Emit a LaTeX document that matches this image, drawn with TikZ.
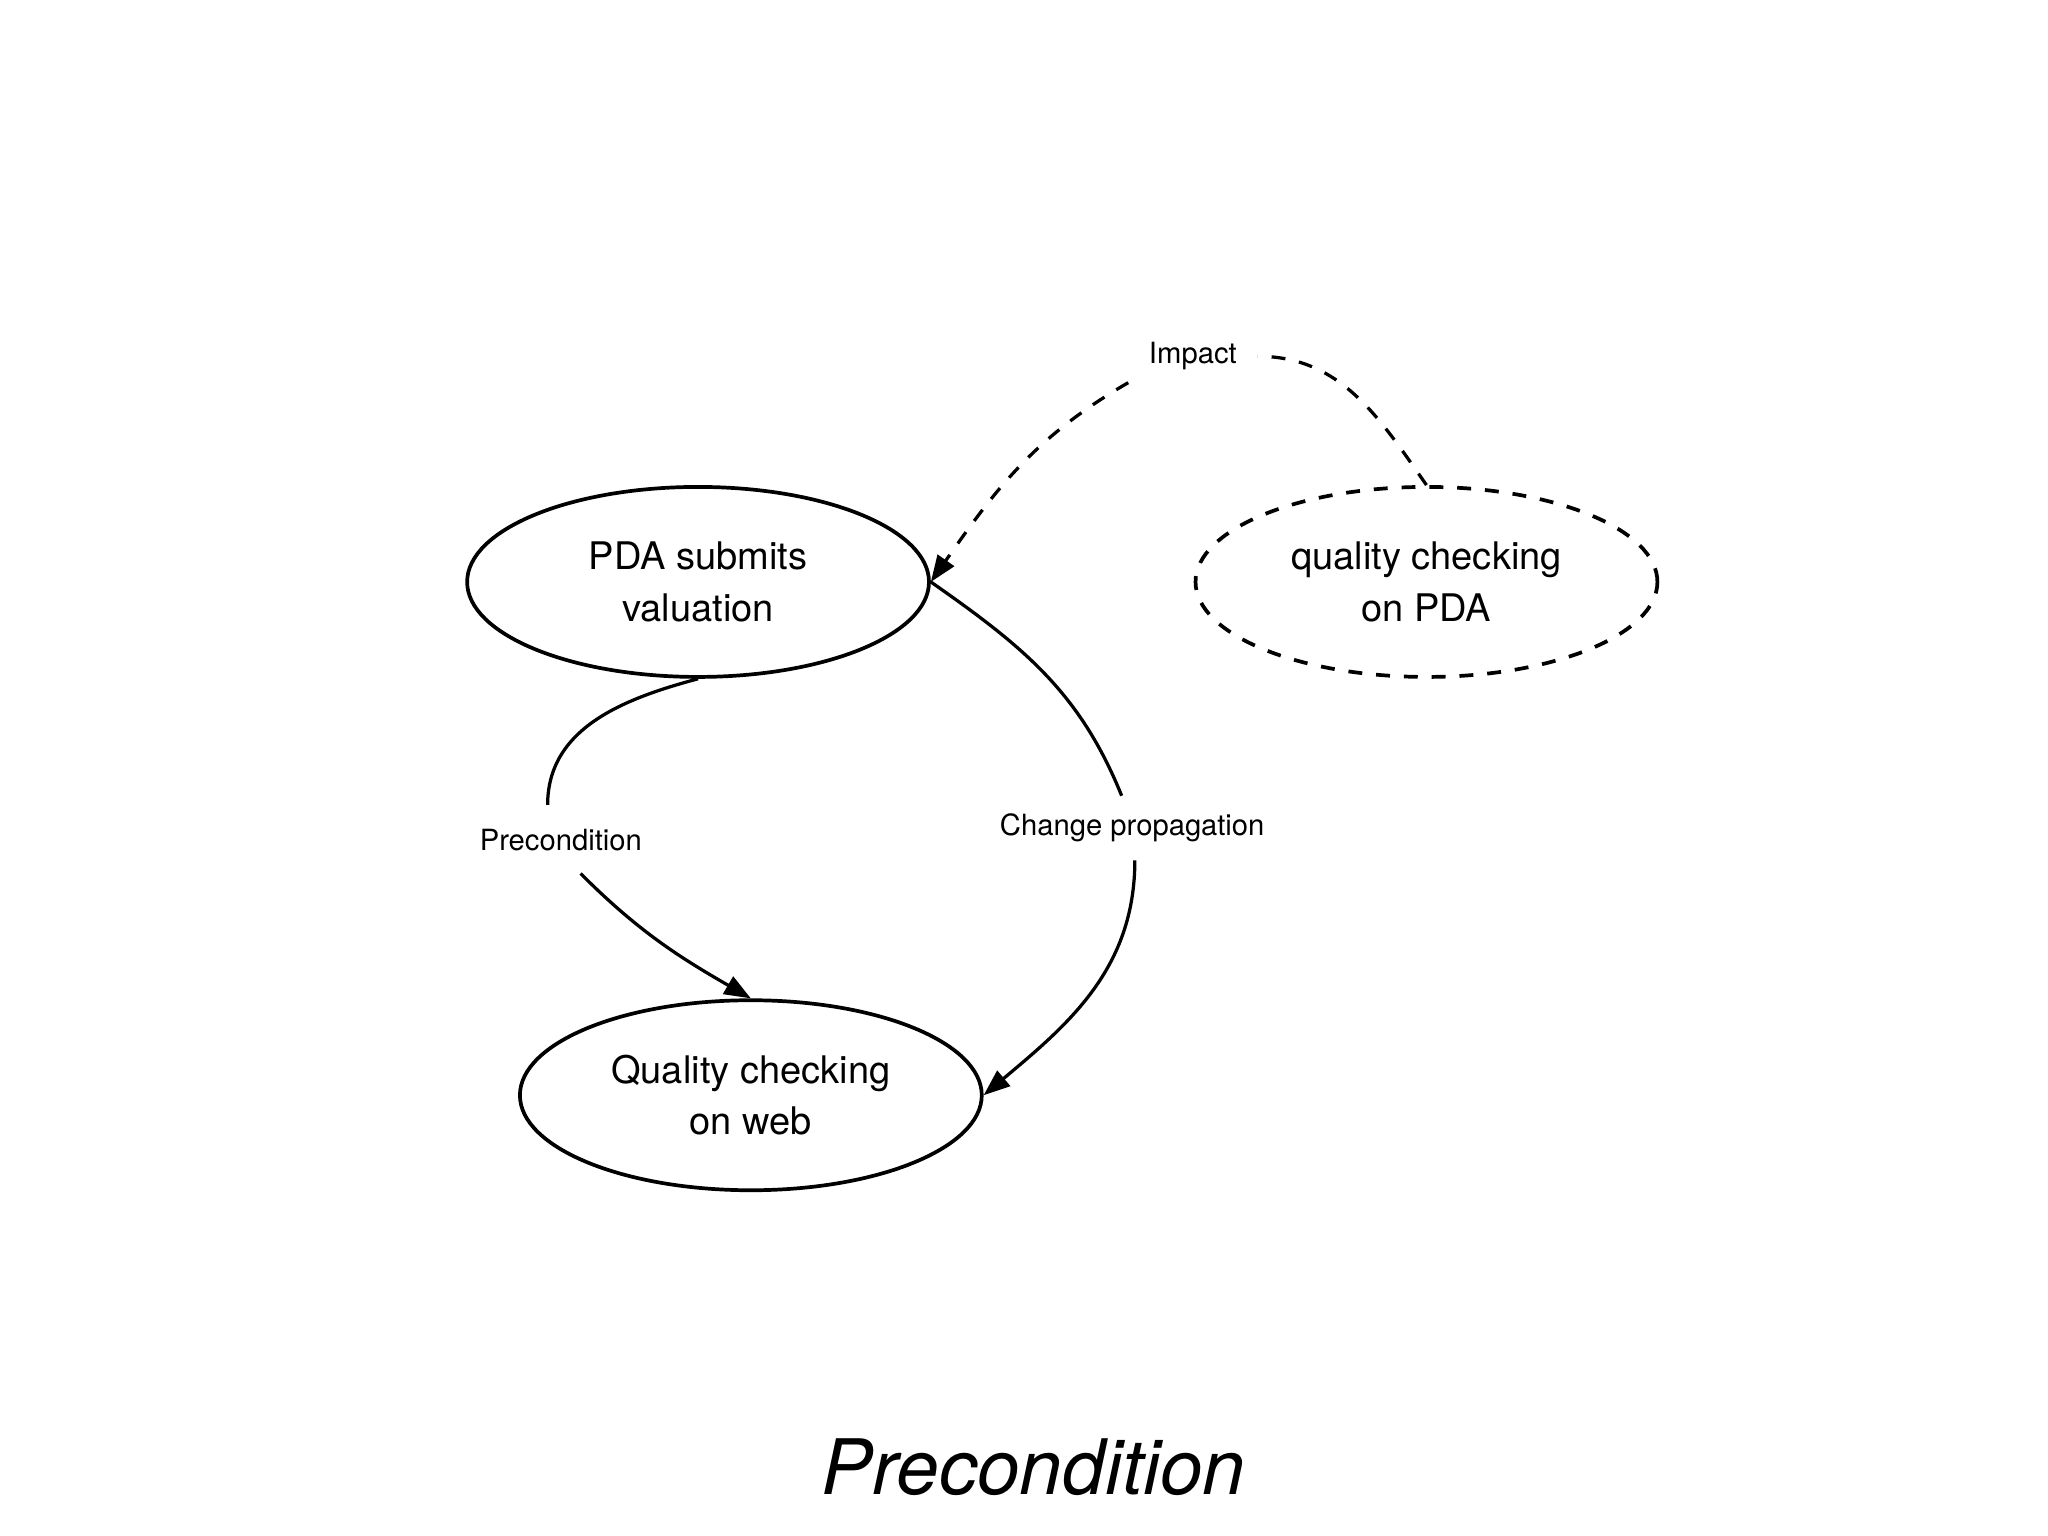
\documentclass[tikz,border=0pt]{standalone}
\usepackage{fontspec}
\setmainfont{TeX Gyre Heros}
\usetikzlibrary{shapes.geometric,arrows.meta}
\begin{document}
\begin{tikzpicture}[
  ell/.style={ellipse,draw,line width=0.8pt,minimum width=3.5cm,minimum height=1.44cm,inner sep=0pt,align=center,font=\fontsize{8.2}{11}\selectfont},
  lab/.style={font=\fontsize{6.3}{8}\selectfont,inner sep=1pt},
  con/.style={line width=0.7pt},
  arr/.style={con,-{Triangle[length=2mm,width=1.5mm]}}]
\useasboundingbox (0,0) rectangle (15.52,-11.64);
\node[ell] (pda) at (5.29,-4.41) {PDA submits\\valuation};
\node[ell,dashed] (qpda) at (10.81,-4.41) {quality checking\\on PDA};
\node[ell] (web) at (5.69,-8.30) {Quality checking\\on web};
\node[lab] (imp) at (9.04,-2.70) {Impact};
\node[lab] (pre) at (4.25,-6.37) {Precondition};
\node[lab] (chg) at (8.58,-6.27) {Change propagation};
\node[font=\itshape\fontsize{16.5}{20}\selectfont] (title) at (7.83,-11.12) {Precondition};
\coordinate (p1) at (4.15,-6.10);
\coordinate (p2) at (4.40,-6.62);
\coordinate (c1) at (8.50,-6.03);
\coordinate (c2) at (8.60,-6.52);
\coordinate (i1) at (9.53,-2.70);
\coordinate (i2) at (8.55,-2.90);
\draw[con] (pda.south) to[out=195,in=90] (p1);
\draw[arr] (p2) to[out=-45,in=150] (web.north);
\draw[con] (pda.east) to[out=-35,in=112] (c1);
\draw[arr] (c2) to[out=-90,in=40] (web.east);
\draw[con,dashed] (qpda.north) to[out=125,in=0] (i1);
\draw[arr,dashed] (i2) to[out=210,in=55] (pda.east);
\end{tikzpicture}
\end{document}
